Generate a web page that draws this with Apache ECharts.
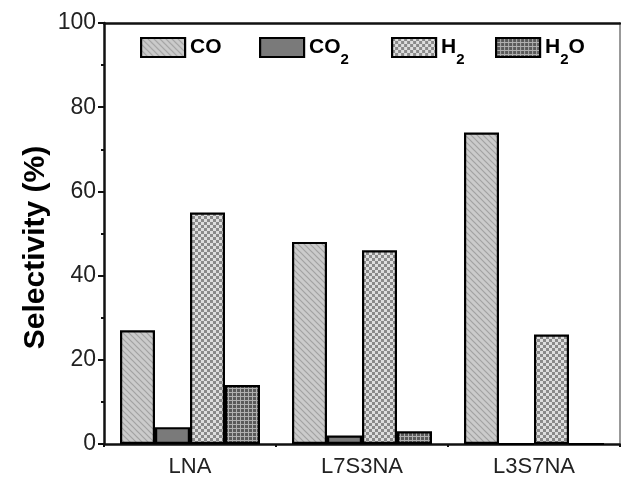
<!DOCTYPE html>
<html>
<head>
<meta charset="utf-8">
<script src="https://cdn.jsdelivr.net/npm/echarts@6/dist/echarts.min.js"></script>
<style>html,body{margin:0;padding:0;background:#fff}#c{width:621px;height:482px}</style>
</head>
<body>
<div id="c"></div>
<script>
var categories = ['LNA', 'L7S3NA', 'L3S7NA'];
var seriesNames = ['CO', 'CO2', 'H2', 'H2O'];
var coValues = [27, 48, 74];
var co2Values = [4, 2, 0];
var h2Values = [55, 46, 26];
var h2oValues = [14, 3, 0];
var yTicks = [0, 20, 40, 60, 80, 100];

function makeCanvas(w, h, draw) {
  var c = document.createElement('canvas');
  c.width = w; c.height = h;
  draw(c.getContext('2d'));
  return c;
}
var patCO = makeCanvas(6, 6, function (g) {
  g.fillStyle = '#cbcbcb'; g.fillRect(0, 0, 6, 6);
  g.strokeStyle = '#a2a2a2'; g.lineWidth = 1.2;
  g.beginPath();
  g.moveTo(-1, -1); g.lineTo(7, 7);
  g.moveTo(-1, 5); g.lineTo(1, 7);
  g.moveTo(5, -1); g.lineTo(7, 1);
  g.stroke();
});
var patH2 = makeCanvas(6, 6, function (g) {
  g.fillStyle = '#dedede'; g.fillRect(0, 0, 6, 6);
  g.fillStyle = '#8a8a8a';
  g.fillRect(0, 0, 3, 3); g.fillRect(3, 3, 3, 3);
});
var patH2O = makeCanvas(4, 4, function (g) {
  g.fillStyle = '#5a5a5a'; g.fillRect(0, 0, 4, 4);
  g.fillStyle = '#b0b0b0';
  g.fillRect(0, 0, 4, 1); g.fillRect(0, 0, 1, 4);
});
var fills = [
  { image: patCO, repeat: 'repeat' },
  '#7a7a7a',
  { image: patH2, repeat: 'repeat' },
  { image: patH2O, repeat: 'repeat' }
];
var values = [coValues, co2Values, h2Values, h2oValues];
var legendLefts = [140, 259, 391, 495];

var rich = {
  b: { fontSize: 21, fontWeight: 'bold', color: '#000', fontFamily: 'Liberation Sans', lineHeight: 22 },
  s: { fontSize: 15, fontWeight: 'bold', color: '#000', fontFamily: 'Liberation Sans', lineHeight: 22, padding: [24, 0, 0, 0] }
};
function legendLabel(name) {
  if (name === 'CO2') return '{b|CO}{s|2}';
  if (name === 'H2') return '{b|H}{s|2}';
  if (name === 'H2O') return '{b|H}{s|2}{b|O}';
  return '{b|' + name + '}{s| }';
}

var chart = echarts.init(document.getElementById('c'));
chart.setOption({
  animation: false,
  backgroundColor: '#fff',
  textStyle: { fontFamily: 'Liberation Sans' },
  legend: seriesNames.map(function (n, i) {
    return {
      data: [n], left: legendLefts[i], top: 28,
      itemWidth: 44, itemHeight: 19, itemGap: 0, padding: 0,
      icon: 'rect', selectedMode: false,
      itemStyle: { borderColor: '#000', borderWidth: 2.2 },
      formatter: legendLabel,
      textStyle: { fontSize: 21, fontWeight: 'bold', color: '#000', rich: rich }
    };
  }),
  grid: { left: 104, right: 1, top: 23, bottom: 38, containLabel: false },
  xAxis: [
    {
      type: 'category', data: categories, position: 'bottom',
      axisLine: { lineStyle: { color: '#111', width: 2.5 } },
      axisTick: { alignWithLabel: true, length: 6, lineStyle: { color: '#111', width: 2 } },
      axisLabel: { fontSize: 22, color: '#222', margin: 12 }
    },
    {
      type: 'category', data: categories, position: 'bottom',
      axisLine: { show: false },
      axisTick: { show: true, length: 3, lineStyle: { color: '#111', width: 2 } },
      axisLabel: { show: false }
    },
    {
      type: 'category', data: categories, position: 'top',
      axisLine: { lineStyle: { color: '#111', width: 2.5 } },
      axisTick: { show: false }, axisLabel: { show: false }
    }
  ],
  yAxis: [
    {
      type: 'value', min: 0, max: 100, interval: 20,
      name: 'Selectivity (%)', nameLocation: 'middle', nameGap: 53, nameMoveOverlap: false,
      nameTextStyle: { fontSize: 30, fontWeight: 'bold', color: '#000', padding: [0, 28, 0, 0] },
      axisLine: { show: true, lineStyle: { color: '#111', width: 2.5 } },
      axisTick: { show: true, length: 6, lineStyle: { color: '#111', width: 2 } },
      minorTick: { show: true, splitNumber: 2, length: 3, lineStyle: { color: '#111', width: 2 } },
      axisLabel: {
        fontSize: 23, color: '#222', margin: 8,
        formatter: function (v) { return yTicks.indexOf(v) >= 0 ? String(v) : ''; }
      },
      splitLine: { show: false }
    },
    {
      type: 'value', min: 0, max: 100, position: 'right',
      axisLine: { show: true, lineStyle: { color: '#777', width: 1.5 } },
      axisTick: { show: false }, axisLabel: { show: false }, splitLine: { show: false }
    }
  ],
  series: seriesNames.map(function (n, i) {
    return {
      name: n, type: 'bar', data: values[i],
      barWidth: 35, barGap: '0%',
      itemStyle: { color: fills[i], borderColor: '#000', borderWidth: 2.2 }
    };
  })
});
</script>
</body>
</html>
